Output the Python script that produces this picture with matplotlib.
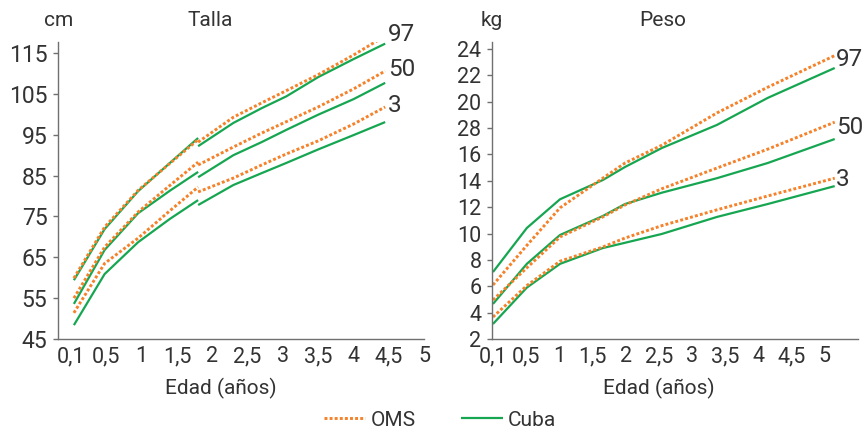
import matplotlib.pyplot as plt
import matplotlib.lines as mlines

plt.rcParams['font.family'] = ['Roboto', 'DejaVu Sans']

# tick labels (edad en años), shown as evenly spaced categories
edad_labels = ['0,1', '0,5', '1', '1,5', '2', '2,5', '3', '3,5', '4', '4,5', '5']
peso_ylabels = ['2', '4', '6', '8', '10', '12', '14', '16', '28', '20', '22', '24']
peso_yticks = [2, 4, 6, 8, 10, 12, 14, 16, 18, 20, 22, 24]
talla_yticks = [45, 55, 65, 75, 85, 95, 105, 115]

# Talla (cm): x positions on the category axis, before / after the 2-year break
talla_x_lying = [0.08, 0.95, 1.9, 2.8, 3.6]
talla_x_standing = [3.6, 4.6, 5.4, 6.1, 7.0, 8.0, 8.9]

oms_talla_p97_lying = [59.9, 72.4, 81.4, 88.0, 93.8]
oms_talla_p50_lying = [55.0, 67.5, 76.1, 82.6, 88.3]
oms_talla_p3_lying = [51.4, 63.5, 69.7, 76.4, 82.2]
cuba_talla_p97_lying = [59.4, 71.9, 81.2, 88.1, 94.2]
cuba_talla_p50_lying = [53.6, 66.8, 75.8, 81.3, 85.9]
cuba_talla_p3_lying = [48.4, 60.9, 68.7, 74.4, 79.0]

oms_talla_p97_standing = [93.2, 99.3, 102.8, 105.8, 109.7, 114.5, 119.2]
oms_talla_p50_standing = [87.6, 92.0, 95.4, 98.2, 101.8, 106.2, 110.6]
oms_talla_p3_standing = [81.0, 84.4, 87.6, 90.3, 93.5, 97.6, 101.8]
cuba_talla_p97_standing = [92.2, 97.9, 101.5, 104.4, 109.1, 113.5, 117.3]
cuba_talla_p50_standing = [84.6, 90.0, 93.2, 96.2, 99.9, 103.7, 107.7]
cuba_talla_p3_standing = [77.8, 82.7, 85.6, 88.1, 91.4, 94.9, 98.1]

# Peso (kg)
peso_x = [0, 1.02, 2.02, 3.31, 3.98, 5.09, 6.75, 8.28, 10.3]
oms_peso_p97 = [6.1, 9.1, 11.95, 14.2, 15.35, 16.7, 19.15, 21.1, 23.5]
oms_peso_p50 = [4.96, 7.4, 9.74, 11.26, 12.17, 13.4, 14.97, 16.4, 18.45]
oms_peso_p3 = [3.67, 6.05, 7.9, 8.98, 9.66, 10.6, 11.8, 12.85, 14.2]
cuba_peso_p97 = [7.08, 10.42, 12.6, 14.06, 15.05, 16.49, 18.24, 20.29, 22.56]
cuba_peso_p50 = [4.66, 7.7, 9.89, 11.33, 12.24, 13.1, 14.2, 15.35, 17.17]
cuba_peso_p3 = [3.14, 5.9, 7.7, 8.9, 9.3, 9.97, 11.26, 12.24, 13.6]

percentiles = ['97', '50', '3']

GREEN = '#16a651'
ORANGE = '#f5822a'
TEXT = '#333333'
AXIS = '#707070'
FS = 15

oms_style = dict(color=ORANGE, lw=2.1, dashes=(1, 0.75), dash_capstyle='butt')
cuba_style = dict(color=GREEN, lw=1.6, solid_capstyle='butt')

fig = plt.figure(figsize=(8.66, 4.30), dpi=100)
ax1 = fig.add_axes([0.0670, 0.2116, 0.4226, 0.6907])
ax2 = fig.add_axes([0.5681, 0.2116, 0.4226, 0.6907])


def style_axis(ax, ysize):
    for s in ['top', 'right']:
        ax.spines[s].set_visible(False)
    for s in ['left', 'bottom']:
        ax.spines[s].set_color(AXIS)
        ax.spines[s].set_linewidth(1.0)
    ax.tick_params(axis='y', length=3.6, width=1.0, color=AXIS, pad=4,
                   labelsize=ysize, labelcolor=TEXT)
    ax.tick_params(axis='x', length=0, pad=5, labelsize=15.5, labelcolor=TEXT)
    ax.set_xticks(range(len(edad_labels)))
    ax.set_xticklabels(edad_labels)


# --- Talla ---
oms_lying = [oms_talla_p97_lying, oms_talla_p50_lying, oms_talla_p3_lying]
cuba_lying = [cuba_talla_p97_lying, cuba_talla_p50_lying, cuba_talla_p3_lying]
oms_standing = [oms_talla_p97_standing, oms_talla_p50_standing, oms_talla_p3_standing]
cuba_standing = [cuba_talla_p97_standing, cuba_talla_p50_standing, cuba_talla_p3_standing]

for o_l, c_l, o_s, c_s, p in zip(oms_lying, cuba_lying, oms_standing, cuba_standing, percentiles):
    ax1.plot(talla_x_lying, c_l, **cuba_style)
    ax1.plot(talla_x_standing, c_s, **cuba_style)
    ax1.plot(talla_x_lying, o_l, **oms_style)
    ax1.plot(talla_x_standing, o_s, **oms_style)
    ax1.annotate(p, xy=(talla_x_standing[-1], o_s[-1]), xytext=(2, 1),
                 textcoords='offset points', ha='left', va='center',
                 fontsize=17.5, color=TEXT, annotation_clip=False)

style_axis(ax1, 16.5)
ax1.set_xlim(-0.37, 10.0)
ax1.set_ylim(45, 117.7)
ax1.set_yticks(talla_yticks)
ax1.text(0.003, 1.074, 'cm', transform=ax1.transAxes, ha='center', va='center',
         fontsize=FS, color=TEXT)
ax1.text(0.415, 1.074, 'Talla', transform=ax1.transAxes, ha='center', va='center',
         fontsize=FS, color=TEXT)
ax1.set_xlabel('Edad (años)', fontsize=FS, color=TEXT)
ax1.xaxis.set_label_coords(0.445, -0.165)
ax1.xaxis.label.set_va('center')

# --- Peso ---
oms_peso = [oms_peso_p97, oms_peso_p50, oms_peso_p3]
cuba_peso = [cuba_peso_p97, cuba_peso_p50, cuba_peso_p3]
for o, c, p in zip(oms_peso, cuba_peso, percentiles):
    ax2.plot(peso_x, c, **cuba_style)
    ax2.plot(peso_x, o, **oms_style)
    ax2.annotate(p, xy=(peso_x[-1], (o[-1] + c[-1]) / 2), xytext=(1, 2),
                 textcoords='offset points', ha='left', va='center',
                 fontsize=17.5, color=TEXT, annotation_clip=False)

style_axis(ax2, 15.5)
ax2.set_xlim(-0.03, 11.0)
ax2.set_ylim(2, 24.53)
ax2.set_yticks(peso_yticks)
ax2.set_yticklabels(peso_ylabels)
ax2.text(0.0, 1.074, 'kg', transform=ax2.transAxes, ha='center', va='center',
         fontsize=FS, color=TEXT)
ax2.text(0.468, 1.074, 'Peso', transform=ax2.transAxes, ha='center', va='center',
         fontsize=FS, color=TEXT)
ax2.set_xlabel('Edad (años)', fontsize=FS, color=TEXT)
ax2.xaxis.set_label_coords(0.456, -0.165)
ax2.xaxis.label.set_va('center')

# legend
h_oms = mlines.Line2D([], [], **oms_style)
h_cuba = mlines.Line2D([], [], **cuba_style)
fig.legend([h_oms, h_cuba], ['OMS', 'Cuba'], loc='center', ncol=2,
           bbox_to_anchor=(440 / 866, 1 - 420 / 430), frameon=False,
           fontsize=FS, labelcolor=TEXT, handlelength=2.0, handletextpad=0.25,
           columnspacing=2.2, borderpad=0.2)

plt.savefig('out.png', dpi=100)
